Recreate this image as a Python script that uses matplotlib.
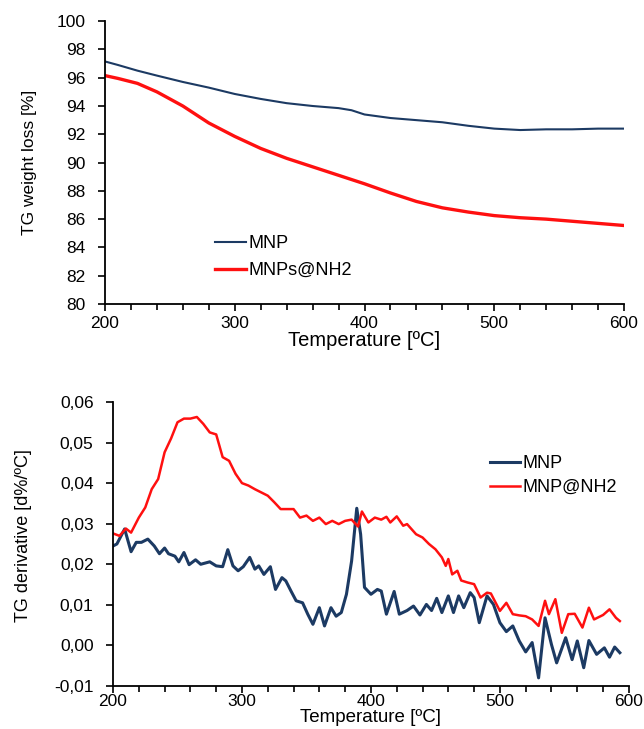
import matplotlib
matplotlib.use("Agg")
import matplotlib.pyplot as plt
from matplotlib.ticker import MultipleLocator, FuncFormatter

plt.rcParams['font.family'] = ['Liberation Sans', 'DejaVu Sans']

# ---- TG weight loss (top panel) ----
tg_temp = [200, 210, 225, 240, 260, 280, 300, 320, 340, 360, 380, 390, 400,
           420, 440, 460, 480, 500, 520, 540, 560, 580, 600]
tg_mnp = [97.15, 96.9, 96.5, 96.15, 95.7, 95.3, 94.85, 94.5, 94.2, 94.0, 93.85,
          93.7, 93.4, 93.15, 93.0, 92.85, 92.6, 92.4, 92.3, 92.35, 92.35, 92.4, 92.4]
tg_nh2 = [96.15, 95.95, 95.6, 95.0, 94.0, 92.8, 91.85, 91.0, 90.3, 89.7, 89.1,
          88.8, 88.5, 87.85, 87.25, 86.8, 86.5, 86.25, 86.1, 86.0, 85.85, 85.7, 85.55]

# ---- TG derivative (bottom panel) ----
dtg_mnp_temp = [200, 203, 209, 214, 218, 222, 227, 232, 236, 240, 243, 248, 251, 255,
                259, 264, 268, 275, 280, 285, 289, 293, 297, 301, 306, 310, 313, 317,
                322, 326, 331, 334, 338, 342, 347, 351, 355, 360, 364, 369, 373, 377,
                381, 385, 389, 392, 395, 400, 405, 408, 412, 418, 422, 428, 433, 438,
                443, 447, 451, 455, 460, 464, 468, 472, 477, 480, 484, 490, 495, 500,
                505, 510, 515, 520, 525, 530, 535, 540, 544, 551, 556, 560, 565, 569,
                575, 581, 585, 589, 593]
dtg_mnp = [0.0245, 0.025, 0.0287, 0.0231, 0.0254, 0.0254, 0.0262, 0.0245, 0.0226, 0.024,
           0.0226, 0.022, 0.0206, 0.0229, 0.0199, 0.0211, 0.02, 0.0206, 0.0196, 0.0194,
           0.0236, 0.0196, 0.0184, 0.0194, 0.0217, 0.0188, 0.0196, 0.0175, 0.0194, 0.0138,
           0.0167, 0.0159, 0.0134, 0.011, 0.0105, 0.0077, 0.0052, 0.0093, 0.0048, 0.0093,
           0.0072, 0.0081, 0.0126, 0.0208, 0.0338, 0.0274, 0.0143, 0.0126, 0.0138, 0.0134,
           0.0077, 0.0133, 0.0077, 0.0086, 0.0097, 0.0075, 0.0101, 0.0086, 0.0116, 0.0081,
           0.0122, 0.0081, 0.0122, 0.0093, 0.013, 0.0118, 0.0056, 0.0122, 0.0101, 0.0056,
           0.0034, 0.0048, 0.0011, -0.0016, 0.0007, -0.008, 0.0068, 0.0002, -0.0043, 0.0019,
           -0.0035, 0.0011, -0.0055, 0.0012, -0.0022, -0.0006, -0.0029, -0.0004, -0.0018]

dtg_nh2_temp = [200, 205, 210, 214, 220, 225, 230, 235, 240, 245, 250, 255, 260, 265,
                270, 275, 280, 285, 290, 295, 300, 305, 310, 315, 320, 325, 330, 335,
                340, 345, 350, 355, 360, 365, 370, 375, 380, 385, 390, 393, 398, 403,
                408, 412, 415, 420, 425, 428, 435, 440, 445, 450, 455, 458, 460, 463,
                467, 470, 475, 480, 485, 490, 493, 500, 505, 510, 515, 520, 525, 530,
                535, 538, 543, 548, 553, 558, 564, 569, 573, 580, 585, 590, 593]
dtg_nh2 = [0.0276, 0.027, 0.0288, 0.0278, 0.0315, 0.034, 0.0385, 0.041, 0.0476, 0.051,
           0.055, 0.0559, 0.0559, 0.0563, 0.0546, 0.0525, 0.052, 0.0464, 0.0455, 0.0423,
           0.040, 0.0394, 0.0385, 0.0377, 0.0369, 0.0353, 0.0336, 0.0336, 0.0336, 0.0315,
           0.032, 0.0307, 0.0315, 0.0299, 0.0307, 0.0299, 0.0307, 0.031, 0.0293, 0.033,
           0.0303, 0.0315, 0.031, 0.0317, 0.0303, 0.0318, 0.0295, 0.0299, 0.0274, 0.0266,
           0.025, 0.0237, 0.0217, 0.0196, 0.0213, 0.0175, 0.0184, 0.016, 0.0155, 0.0151,
           0.0118, 0.013, 0.0128, 0.0085, 0.0105, 0.0077, 0.0074, 0.0072, 0.0064, 0.0048,
           0.011, 0.0077, 0.0114, 0.0031, 0.0077, 0.0078, 0.0044, 0.0093, 0.0064, 0.0075,
           0.0089, 0.0068, 0.006]

navy = '#1c3a63'
red = '#ff1010'

fig = plt.figure(figsize=(6.44, 7.29), dpi=100)


def style_axes(ax, xpad):
    for side in ['top', 'right']:
        ax.spines[side].set_visible(False)
    for side in ['left', 'bottom']:
        ax.spines[side].set_linewidth(1.3)
    ax.set_xlim(200, 600)
    ax.xaxis.set_major_locator(MultipleLocator(100))
    ax.xaxis.set_minor_locator(MultipleLocator(20))
    ax.tick_params(which='both', direction='out', width=1.2, labelsize=12.5)
    ax.tick_params(axis='x', which='major', length=5, pad=xpad)
    ax.tick_params(axis='x', which='minor', length=4)
    ax.tick_params(axis='y', length=5, pad=9)


# top panel
ax1 = fig.add_axes([0.163, 0.583, 0.806, 0.388])
ax1.plot(tg_temp, tg_mnp, color=navy, lw=1.5, label='MNP')
ax1.plot(tg_temp, tg_nh2, color=red, lw=2.4, label='MNPs@NH2')
style_axes(ax1, 4)
ax1.set_ylim(80, 100)
ax1.yaxis.set_major_locator(MultipleLocator(2))
ax1.set_xlabel('Temperature [ºC]', fontsize=14.5, labelpad=0)
ax1.set_ylabel('TG weight loss [%]', fontsize=12.5)
ax1.yaxis.set_label_coords(-0.131, 0.5)
ax1.legend(loc='center left', bbox_to_anchor=(0.212, 0.166), frameon=False,
           fontsize=13, handlelength=1.7, handletextpad=0.15, labelspacing=0.55,
           borderpad=0, borderaxespad=0)

# bottom panel
ax2 = fig.add_axes([0.1755, 0.059, 0.801, 0.3896])
ax2.plot(dtg_mnp_temp, dtg_mnp, color=navy, lw=2.2, label='MNP')
ax2.plot(dtg_nh2_temp, dtg_nh2, color=red, lw=1.8, label='MNP@NH2')
style_axes(ax2, 1)
ax2.set_ylim(-0.01, 0.06)
ax2.yaxis.set_major_locator(MultipleLocator(0.01))
ax2.yaxis.set_major_formatter(FuncFormatter(lambda v, p: f"{v:.2f}".replace('.', ',')))
ax2.set_xlabel('Temperature [ºC]', fontsize=13.5, labelpad=0)
ax2.set_ylabel('TG derivative [d%/ºC]', fontsize=13)
ax2.yaxis.set_label_coords(-0.157, 0.53)
ax2.legend(loc='center left', bbox_to_anchor=(0.73, 0.741), frameon=False,
           fontsize=13, handlelength=1.7, handletextpad=0.15, labelspacing=0.4,
           borderpad=0, borderaxespad=0)

fig.savefig('out.png', dpi=100)
